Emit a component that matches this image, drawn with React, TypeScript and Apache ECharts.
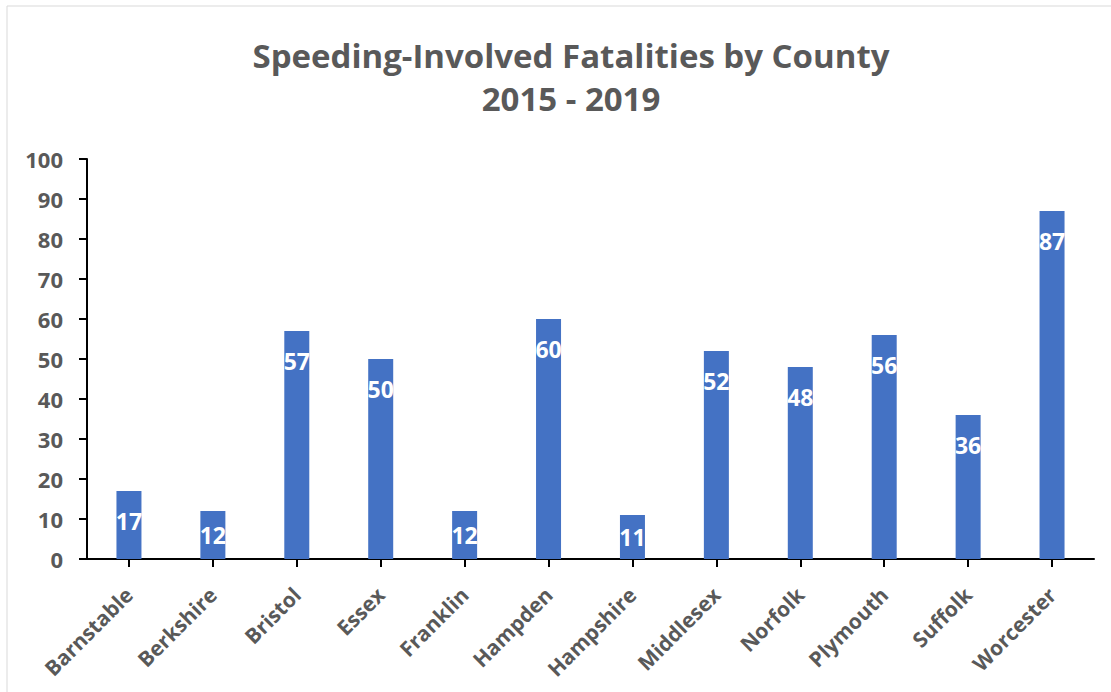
import React, { useEffect, useRef } from "react";
import * as echarts from "echarts";

const counties = [
  "Barnstable", "Berkshire", "Bristol", "Essex", "Franklin", "Hampden",
  "Hampshire", "Middlesex", "Norfolk", "Plymouth", "Suffolk", "Worcester",
];
const fatalities = [17, 12, 57, 50, 12, 60, 11, 52, 48, 56, 36, 87];
const titleLines = ["Speeding-Involved Fatalities by County", "2015 - 2019"];

const FONT = "'Open Sans', sans-serif";
const GRAY = "#595959";
const BLUE = "#4472C4";

export default function App() {
  const ref = useRef<HTMLDivElement>(null);
  useEffect(() => {
    document.body.style.margin = "0";
    const chart = echarts.init(ref.current!, null, { renderer: "svg" });
    chart.setOption({
      animation: false,
      backgroundColor: "#ffffff",
      graphic: [
        {
          type: "rect",
          shape: { x: 7, y: 6, width: 1200, height: 800 },
          style: { fill: "none", stroke: "#d9d9d9", lineWidth: 1 },
          silent: true,
        },
      ],
      title: {
        text: titleLines.join("\n"),
        left: 566,
        textAlign: "center",
        top: 29,
        textStyle: {
          fontFamily: FONT,
          fontSize: 33,
          fontWeight: "bold",
          color: GRAY,
          lineHeight: 43,
        },
      },
      grid: { left: 87, right: 17, top: 159, bottom: 133, containLabel: false },
      xAxis: {
        type: "category",
        data: counties,
        axisLine: { show: true, lineStyle: { color: "#000", width: 2 } },
        axisTick: { show: true, alignWithLabel: true, length: 8, lineStyle: { color: "#000", width: 2 } },
        axisLabel: {
          interval: 0,
          rotate: 45,
          margin: 32,
          fontFamily: FONT,
          fontSize: 21,
          fontWeight: "bold",
          color: GRAY,
        },
      },
      yAxis: {
        type: "value",
        min: 0,
        max: 100,
        interval: 10,
        axisLine: { show: true, lineStyle: { color: "#000", width: 2 } },
        axisTick: { show: true, length: 8, lineStyle: { color: "#000", width: 2 } },
        splitLine: { show: false },
        axisLabel: {
          margin: 24,
          fontFamily: FONT,
          fontSize: 22,
          fontWeight: "bold",
          color: GRAY,
        },
      },
      series: [
        {
          type: "bar",
          data: fatalities.map((v) => ({
            value: v,
            label: v < 15 ? { position: "inside" } : undefined,
          })),
          barWidth: 25,
          itemStyle: { color: BLUE },
          label: {
            show: true,
            position: "insideTop",
            distance: 18,
            fontFamily: FONT,
            fontSize: 23,
            fontWeight: "bold",
            color: "#ffffff",
          },
        },
      ],
    });
    return () => chart.dispose();
  }, []);
  return <div ref={ref} style={{ width: 1111, height: 692 }} />;
}
